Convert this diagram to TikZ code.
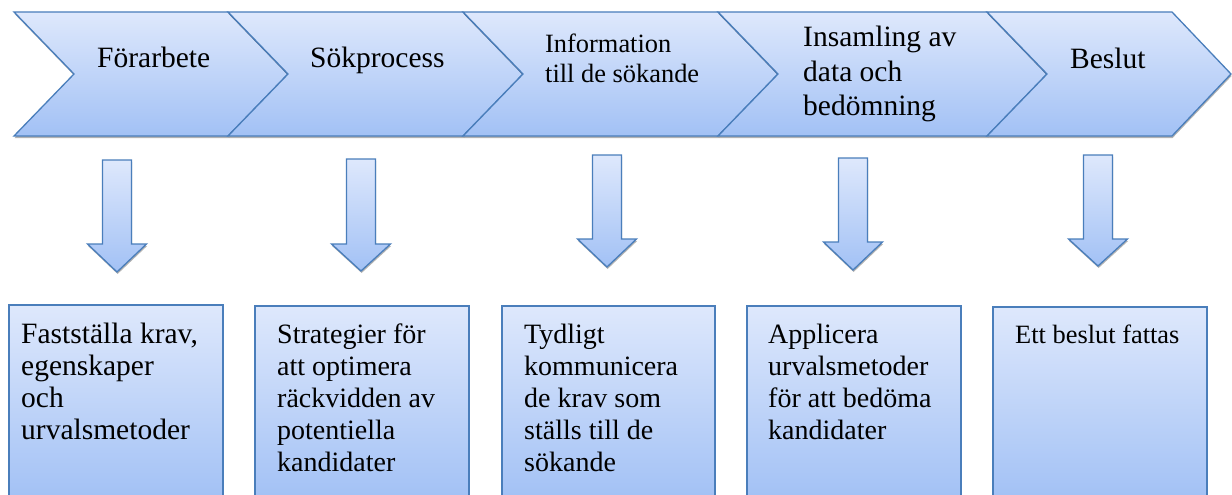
\documentclass[tikz,border=0pt]{standalone}
\usepackage{fontspec}
\setmainfont{LiberationSerif-Regular.ttf}[BoldFont=LiberationSerif-Bold.ttf]
\usetikzlibrary{shadows}
\definecolor{edgeblue}{RGB}{74,126,187}
\definecolor{filltop}{RGB}{222,232,252}
\definecolor{fillbot}{RGB}{162,193,245}
\newcommand{\mylines}[1]{\begin{tabular}[t]{@{}l@{}}#1\end{tabular}}
\newcommand{\blockarrow}[4]{%
  \path[shapefill] ({#1-14.5},#2) -- ({#1+14.5},#2) -- ({#1+14.5},#3) -- ({#1+29.5},#3)
    -- (#1,#4) -- ({#1-29.5},#3) -- ({#1-14.5},#3) -- cycle;}
\tikzset{
  shapefill/.style={draw=edgeblue, line width=1.3pt, line join=miter,
    top color=filltop, bottom color=fillbot,
    drop shadow={shadow xshift=0.6pt, shadow yshift=-2pt, opacity=0.3, fill=black}},
  lbl/.style={anchor=base west, inner sep=0pt, text=black},
  fbig/.style={font=\fontsize{29.5}{32}\selectfont},
  fmid/.style={font=\fontsize{28}{32}\selectfont},
  fsmall/.style={font=\fontsize{26.4}{30}\selectfont},
}
\begin{document}
\begin{tikzpicture}[x=1pt,y=-1pt]
\clip (0,0) rectangle (1232,495);
\fill[white] (0,0) rectangle (1232,495);
% chevrons
\path[shapefill] (14,12) -- (228,12) -- (288,74) -- (228,136) -- (14,136) -- (74,74) -- cycle;
\path[shapefill] (228,12) -- (463,12) -- (523,74) -- (463,136) -- (228,136) -- (288,74) -- cycle;
\path[shapefill] (463,12) -- (718,12) -- (778,74) -- (718,136) -- (463,136) -- (523,74) -- cycle;
\path[shapefill] (718,12) -- (987,12) -- (1047,74) -- (987,136) -- (718,136) -- (778,74) -- cycle;
\path[shapefill] (987,12) -- (1172,12) -- (1231,74) -- (1172,136) -- (987,136) -- (1047,74) -- cycle;
\node[lbl,fbig] (t1) at (97,68) {Förarbete};
\node[lbl,fbig] (t2) at (310,68) {Sökprocess};
\node[lbl,fsmall] (t3) at (545,53) {\mylines{Information\\till de sökande}};
\node[lbl,fbig] (t4) at (803,47) {\mylines{Insamling av\\[2.5pt]data och\\[2.5pt]bedömning}};
\node[lbl,fbig] (t5) at (1070,69) {Beslut};
% arrows
\blockarrow{117}{160}{244}{272}
\blockarrow{361}{159}{244}{271}
\blockarrow{607}{155}{239}{267}
\blockarrow{853}{158}{242}{270}
\blockarrow{1098}{155}{239}{266}
% boxes
\path[shapefill] (9,305) rectangle (223,500);
\path[shapefill] (255,306) rectangle (469,500);
\path[shapefill] (502,306) rectangle (715,500);
\path[shapefill] (747,306) rectangle (961,500);
\path[shapefill] (993,307) rectangle (1207,500);
\node[lbl,fbig] (b1) at (21,343) {\mylines{Fastställa krav,\\egenskaper\\och\\urvalsmetoder}};
\node[lbl,fmid] (b2) at (277,343) {\mylines{Strategier för\\att optimera\\räckvidden av\\potentiella\\kandidater}};
\node[lbl,fmid] (b3) at (524,343) {\mylines{Tydligt\\kommunicera\\de krav som\\ställs till de\\sökande}};
\node[lbl,fmid] (b4) at (768,343) {\mylines{Applicera\\urvalsmetoder\\för att bedöma\\kandidater}};
\node[lbl,fsmall] (b5) at (1015,343) {Ett beslut fattas};
\end{tikzpicture}
\end{document}
